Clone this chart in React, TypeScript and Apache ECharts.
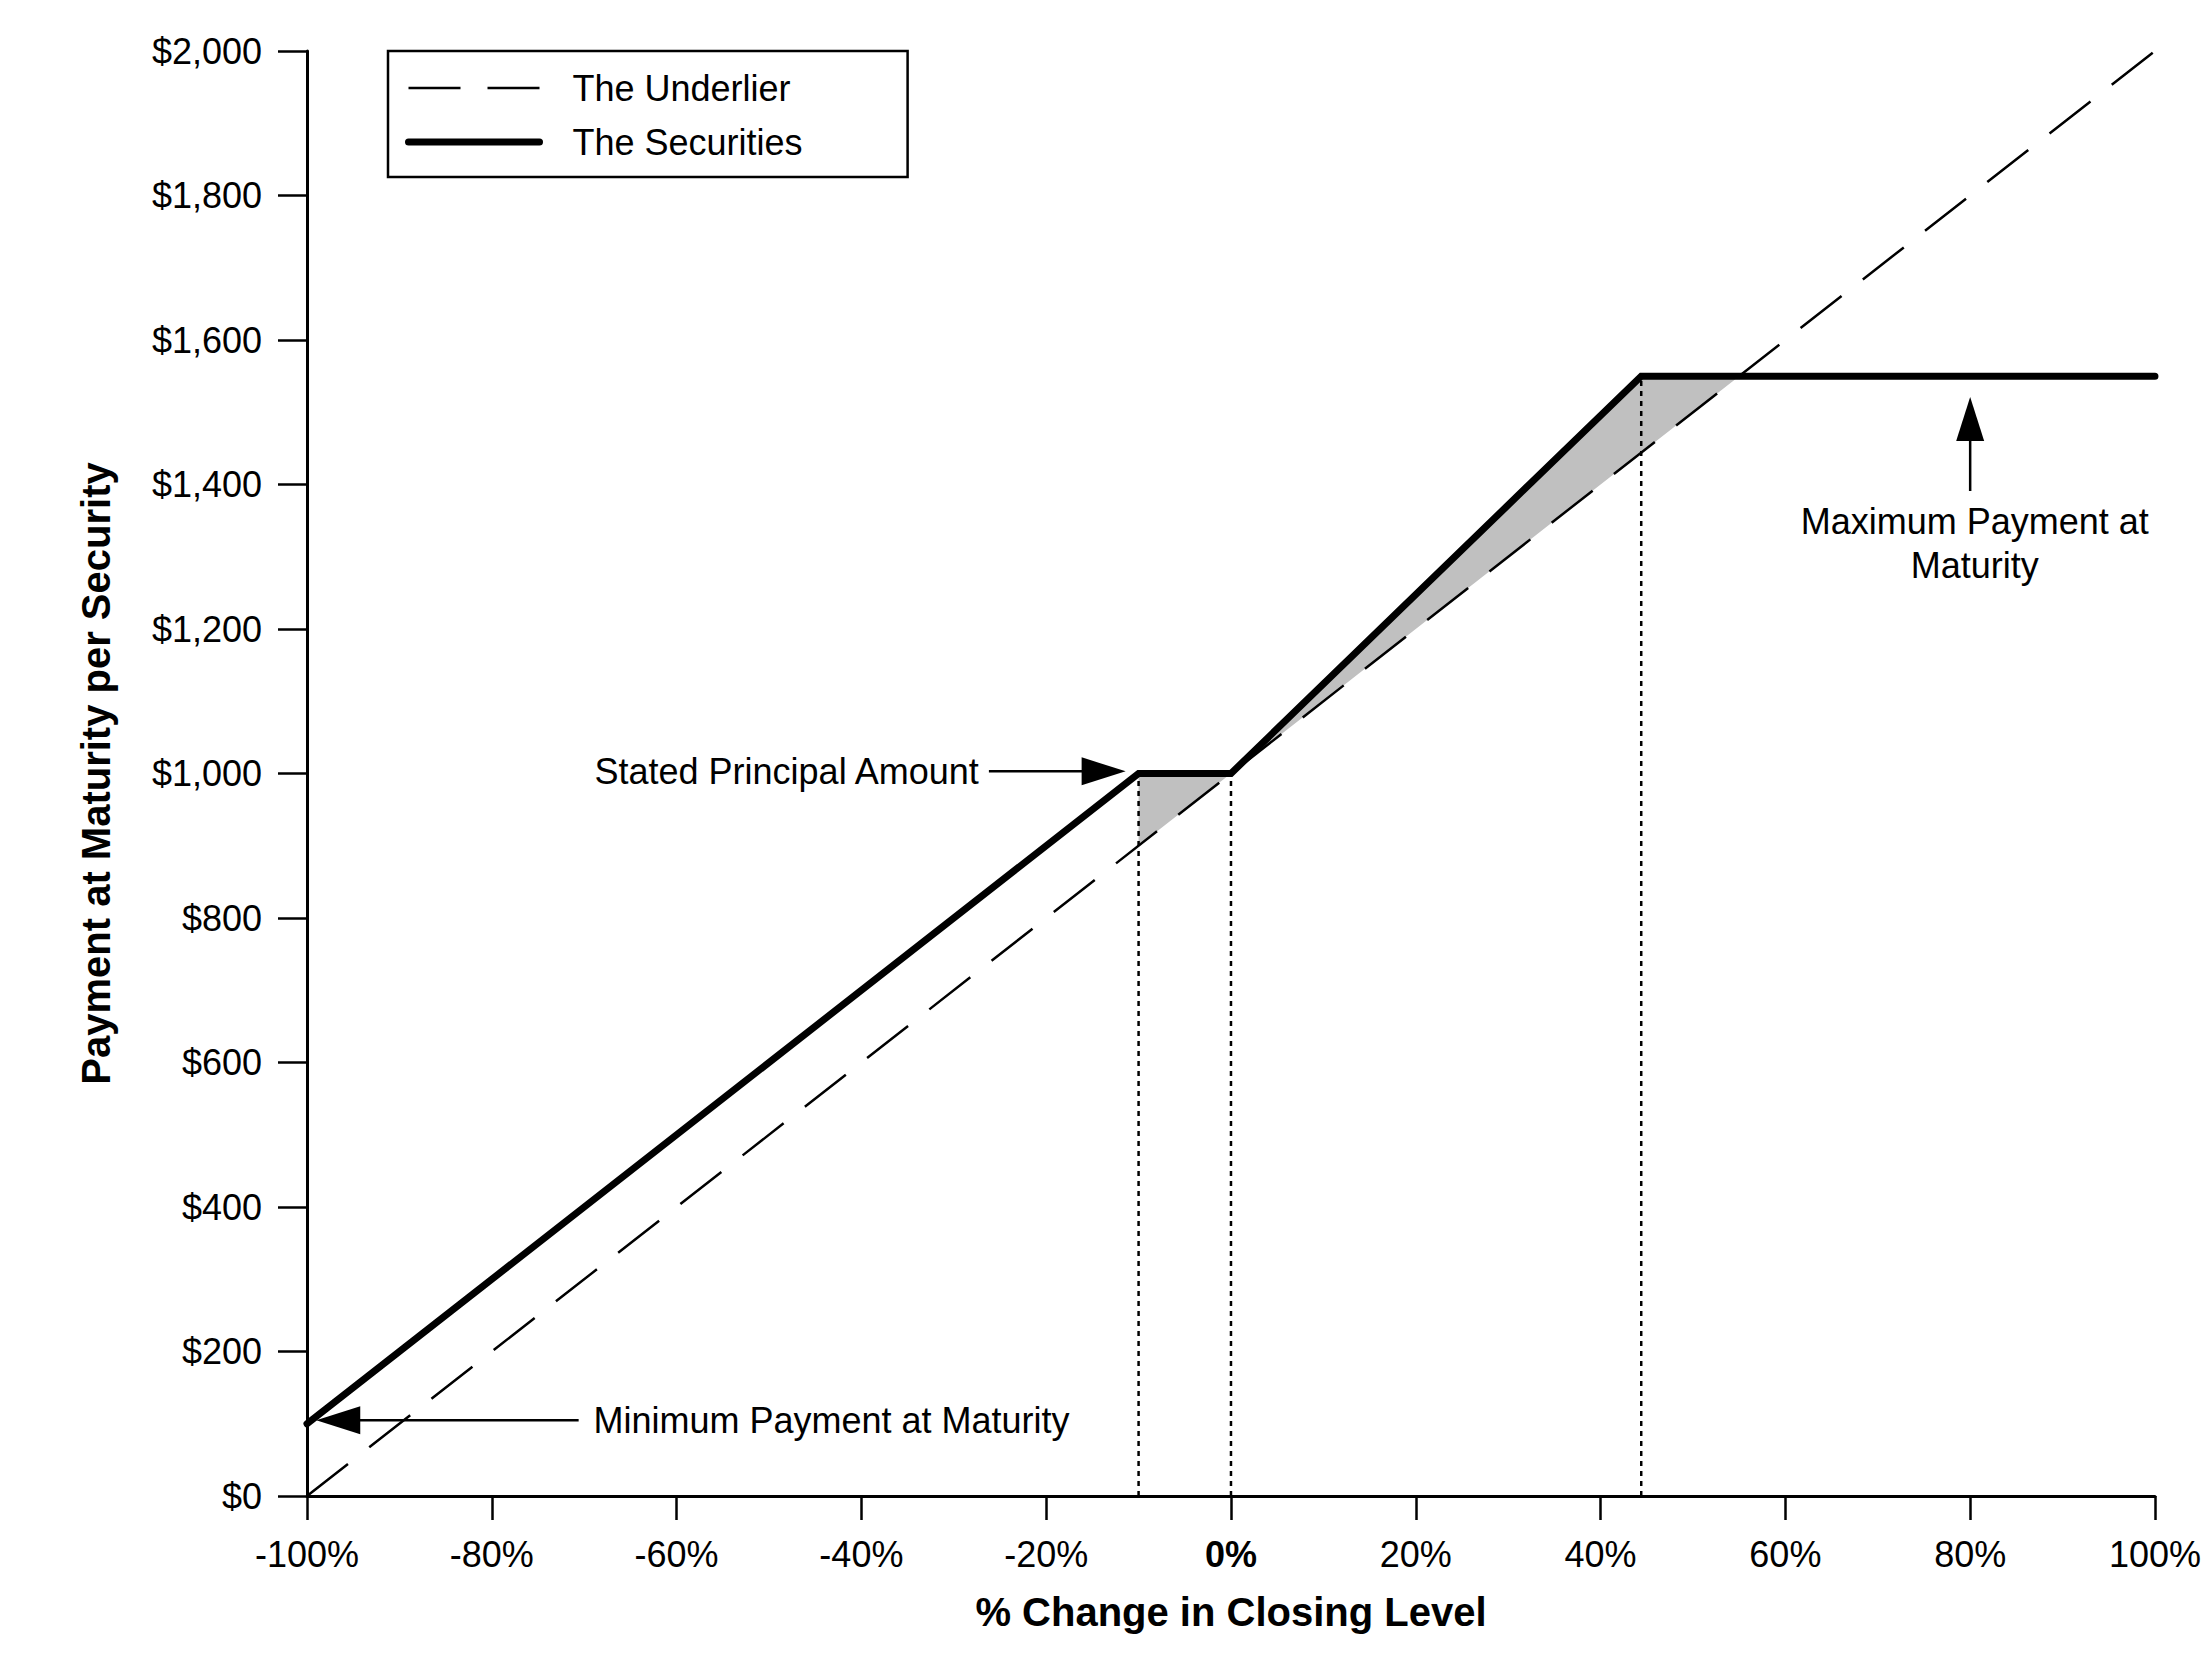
import React, { useEffect, useRef } from "react";
import * as echarts from "echarts";

// ---- data ----
const securitiesX = [-100, -10, 0, 44.4, 100];
const securitiesY = [100, 1000, 1000, 1550, 1550];
const underlierX = [-100, 100];
const underlierY = [0, 2000];
// shaded region between the two payoffs
const shadedX = [-10, 0, 44.4, 55, 0, -10];
const shadedY = [1000, 1000, 1550, 1550, 1000, 900];
// dotted drop lines
const dropX = [-10, 0, 44.4];
const dropY = [1000, 1000, 1550];

const seriesNames = ["The Underlier", "The Securities"];
const xAxisTitle = "% Change in Closing Level";
const yAxisTitle = "Payment at Maturity per Security";

// annotations (anchors in data units)
const annStated = { text: "Stated Principal Amount", textAt: [-27.3, 1003], from: [-26.2, 1003], tip: [-11.4, 1003] };
const annMin = { text: "Minimum Payment at Maturity", textAt: [-69.0, 105], from: [-70.6, 105], tip: [-99.0, 105] };
const annMax = { text: "Maximum Payment at\nMaturity", textAt: [80.5, 1318], from: [80, 1391], tip: [80, 1521] };

const FONT = '"Liberation Sans", Arial, Helvetica, sans-serif';

const underlierStyle = { color: "#000", width: 2.5, type: [52, 27] as number[] };
const securitiesStyle = { color: "#000", width: 7, cap: "round", join: "miter" };

export default function App() {
  const ref = useRef<HTMLDivElement>(null);

  useEffect(() => {
    document.body.style.margin = "0";
    const chart = echarts.init(ref.current!, undefined, { renderer: "svg" });

    const option: any = {
      animation: false,
      backgroundColor: "#ffffff",
      textStyle: { fontFamily: FONT, color: "#000" },
      grid: { left: 307, right: 38, top: 51, bottom: 168, containLabel: false },
      legend: {
        orient: "vertical",
        left: 388,
        top: 51,
        padding: [19, 105, 17, 17],
        itemGap: 18,
        itemWidth: 131,
        itemHeight: 14,
        borderColor: "#000",
        borderWidth: 2.5,
        backgroundColor: "#fff",
        selectedMode: false,
        itemStyle: { opacity: 0 },
        data: [
          { name: seriesNames[0], itemStyle: { opacity: 0 }, lineStyle: { ...underlierStyle } },
          { name: seriesNames[1], itemStyle: { opacity: 0 }, lineStyle: { ...securitiesStyle } },
        ],
        textStyle: { fontSize: 36, color: "#000", fontFamily: FONT, padding: [0, 0, 0, 28] },
      },
      xAxis: {
        type: "value",
        min: -100,
        max: 100,
        interval: 20,
        name: xAxisTitle,
        nameLocation: "middle",
        nameGap: 96,
        nameTextStyle: { fontSize: 40, fontWeight: "bold", color: "#000", fontFamily: FONT },
        axisLine: { show: true, onZero: false, lineStyle: { color: "#000", width: 3 } },
        axisTick: { show: true, length: 24, lineStyle: { color: "#000", width: 2.5 } },
        splitLine: { show: false },
        axisLabel: {
          margin: 40,
          fontSize: 36,
          color: "#000",
          fontFamily: FONT,
          formatter: (v: number) => (v === 0 ? "{b|0%}" : v + "%"),
          rich: { b: { fontSize: 36, fontWeight: "bold", color: "#000", fontFamily: FONT } },
        },
      },
      yAxis: {
        type: "value",
        min: 0,
        max: 2000,
        interval: 200,
        name: yAxisTitle,
        nameLocation: "middle",
        nameGap: 191,
        nameTextStyle: { fontSize: 40, fontWeight: "bold", color: "#000", fontFamily: FONT },
        axisLine: { show: true, onZero: false, lineStyle: { color: "#000", width: 3 } },
        axisTick: { show: true, length: 29, lineStyle: { color: "#000", width: 2.5 } },
        splitLine: { show: false },
        axisLabel: {
          margin: 45,
          fontSize: 36,
          color: "#000",
          fontFamily: FONT,
          formatter: (v: number) => "$" + v.toLocaleString("en-US"),
        },
      },
      series: [
        {
          type: "custom",
          name: "shade",
          z: 1,
          silent: true,
          data: [[0, 0]],
          renderItem: (params: any, api: any) => ({
            type: "polygon",
            shape: { points: shadedX.map((x, i) => api.coord([x, shadedY[i]])) },
            style: { fill: "#c0c0c0", stroke: "none" },
          }),
        },
        ...dropX.map((x, i) => ({
          type: "line",
          name: "drop" + i,
          z: 2,
          symbol: "none",
          silent: true,
          data: [
            [x, 0],
            [x, dropY[i]],
          ],
          lineStyle: { color: "#000", width: 2.5, type: [5, 5] },
        })),
        {
          type: "line",
          name: seriesNames[0],
          z: 3,
          symbol: "none",
          data: underlierX.map((x, i) => [x, underlierY[i]]),
          lineStyle: { ...underlierStyle },
          itemStyle: { color: "#000" },
        },
        {
          type: "line",
          name: seriesNames[1],
          z: 4,
          symbol: "none",
          data: securitiesX.map((x, i) => [x, securitiesY[i]]),
          lineStyle: { ...securitiesStyle },
          itemStyle: { color: "#000" },
        },
      ],
    };

    chart.setOption(option);

    const px = (p: number[]) => chart.convertToPixel({ gridIndex: 0 }, p) as number[];
    const arrow = (a: { from: number[]; tip: number[] }) => {
      const s = px(a.from);
      const t = px(a.tip);
      const dx = t[0] - s[0];
      const dy = t[1] - s[1];
      const len = Math.sqrt(dx * dx + dy * dy) || 1;
      const ux = dx / len;
      const uy = dy / len;
      const nx = -uy;
      const ny = ux;
      const L = 44;
      const W = 14;
      const bx = t[0] - L * ux;
      const by = t[1] - L * uy;
      return [
        {
          type: "line",
          shape: { x1: s[0], y1: s[1], x2: bx + 4 * ux, y2: by + 4 * uy },
          style: { stroke: "#000", lineWidth: 2.5 },
          z: 10,
        },
        {
          type: "polygon",
          shape: {
            points: [
              [t[0], t[1]],
              [bx + W * nx, by + W * ny],
              [bx - W * nx, by - W * ny],
            ],
          },
          style: { fill: "#000" },
          z: 10,
        },
      ];
    };
    const text = (p: number[], str: string, align: string) => {
      const q = px(p);
      return {
        type: "text",
        x: q[0],
        y: q[1],
        z: 10,
        style: {
          text: str,
          fontSize: 36,
          fontFamily: FONT,
          fill: "#000",
          align,
          verticalAlign: "middle",
          lineHeight: 44,
        },
      };
    };

    chart.setOption({
      graphic: [
        ...arrow(annStated),
        text(annStated.textAt, annStated.text, "right"),
        ...arrow(annMin),
        text(annMin.textAt, annMin.text, "left"),
        ...arrow(annMax),
        text(annMax.textAt, annMax.text, "center"),
      ],
    });

    return () => chart.dispose();
  }, []);

  return (
    <div
      ref={ref}
      style={{ position: "absolute", left: 0, top: 0, width: "2204px", height: "1664px", background: "#fff" }}
    />
  );
}
